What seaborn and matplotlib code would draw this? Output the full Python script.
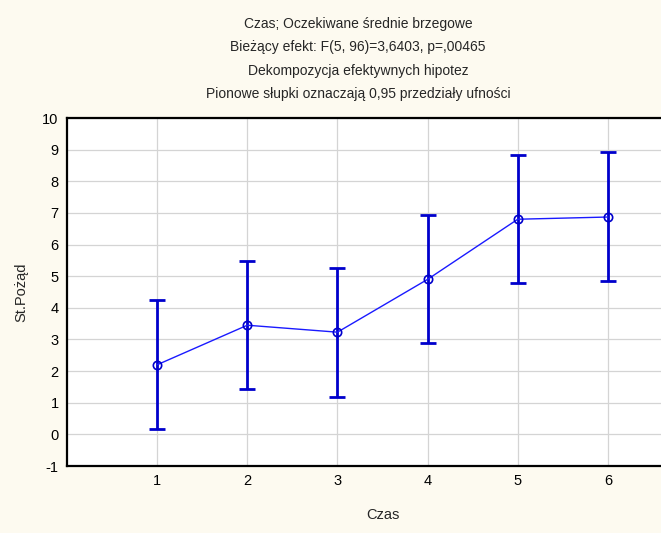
import numpy as np
import pandas as pd
import matplotlib
matplotlib.use('Agg')
import matplotlib.pyplot as plt
import seaborn as sns

# dane
czas = [1, 2, 3, 4, 5, 6]
srednie = [2.20, 3.45, 3.23, 4.90, 6.80, 6.87]
dolna = [0.17, 1.42, 1.18, 2.88, 4.77, 4.84]
gorna = [4.24, 5.48, 5.25, 6.94, 8.84, 8.91]

sns.set_style('white')
plt.rcParams['font.family'] = ['Liberation Sans', 'DejaVu Sans']
plt.rcParams['axes.unicode_minus'] = False

df = pd.DataFrame({'Czas': czas, 'St.Pożąd': srednie})

fig = plt.figure(figsize=(6.61, 5.33), dpi=100)
fig.patch.set_facecolor('#fdfaf0')
ax = fig.add_axes([0.1014, 0.1257, 0.9546, 0.6529])
ax.set_facecolor('white')

blue = '#0000cc'
ax.errorbar(czas, srednie,
            yerr=[np.array(srednie) - np.array(dolna), np.array(gorna) - np.array(srednie)],
            fmt='none', ecolor=blue, elinewidth=2.0, capsize=6, capthick=2.0, zorder=3)
sns.lineplot(data=df, x='Czas', y='St.Pożąd', ax=ax, color='#1a1aff', linewidth=1,
             marker='o', markersize=6, markerfacecolor='none', markeredgecolor=blue,
             markeredgewidth=1.2, zorder=4)

ax.set_xlim(0, 7)
ax.set_ylim(-1, 10)
ax.set_xticks(czas)
ax.set_yticks(range(-1, 11))
ax.grid(True, color='#d4d4d4', linewidth=0.9)
ax.set_axisbelow(True)
for s in ax.spines.values():
    s.set_color('black')
    s.set_linewidth(1.6)
ax.tick_params(direction='in', length=3, width=1, labelsize=10.5, colors='black', pad=6)
ax.set_xlabel('Czas', fontsize=10.5, labelpad=14)
ax.set_ylabel('St.Pożąd', fontsize=10.5, labelpad=10)

tytuly = ['Czas; Oczekiwane średnie brzegowe',
          'Bieżący efekt: F(5, 96)=3,6403, p=,00465',
          'Dekompozycja efektywnych hipotez',
          'Pionowe słupki oznaczają 0,95 przedziały ufności']
for i, t in enumerate(tytuly):
    fig.text(358 / 661, 1 - (24 + i * 23.3) / 533, t, ha='center', va='center', fontsize=10)

fig.savefig('out.png', dpi=100, facecolor=fig.get_facecolor())
